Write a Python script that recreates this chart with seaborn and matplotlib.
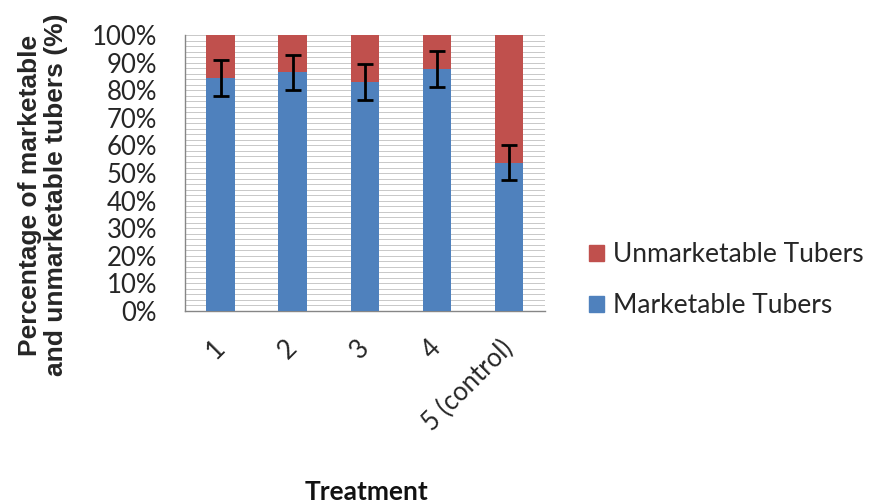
import numpy as np
import matplotlib
matplotlib.use("Agg")
import matplotlib.pyplot as plt
from matplotlib.patches import Rectangle
import pandas as pd
import seaborn as sns

treatments = ["1", "2", "3", "4", "5 (control)"]
marketable = [84.5, 86.5, 83.0, 87.6, 53.8]
unmarketable = [15.5, 13.5, 17.0, 12.4, 46.2]
errors = [6.4, 6.5, 6.4, 6.5, 6.5]

blue = "#4F81BD"
red = "#C0504D"

df = pd.DataFrame({"treatment": treatments, "marketable": marketable,
                   "unmarketable": unmarketable})
df["total"] = df["marketable"] + df["unmarketable"]

sns.set_style("white")
plt.rcParams["font.family"] = ["Lato", "DejaVu Sans"]

fig = plt.figure(figsize=(8.72, 5.03), dpi=100)
ax = fig.add_axes([0.212, 0.382, 0.413, 0.548])

sns.barplot(data=df, x="treatment", y="total", color=red, width=0.4,
            saturation=1, linewidth=0, ax=ax, zorder=3)
sns.barplot(data=df, x="treatment", y="marketable", color=blue, width=0.4,
            saturation=1, linewidth=0, ax=ax, zorder=4)
ax.errorbar(np.arange(len(treatments)), df["marketable"], yerr=errors,
            fmt="none", ecolor="black", elinewidth=2, capsize=6, capthick=2,
            zorder=5)

ax.set_xlim(-0.5, len(treatments) - 0.5)
ax.set_ylim(0, 100)
ax.set_yticks(np.arange(0, 101, 10))
ax.set_yticks(np.arange(0, 101, 2), minor=True)
ax.set_yticklabels([f"{v}%" for v in range(0, 101, 10)])
ax.grid(True, axis="y", which="both", color="#c8c8c8", linewidth=0.7, zorder=0)
ax.set_axisbelow(True)

ax.set_xticks(np.arange(-0.5, len(treatments), 1), minor=True)
ax.tick_params(axis="x", which="minor", length=6.5, color="#868686", width=1,
               direction="out")
ax.tick_params(axis="x", which="major", length=0, pad=24)
ax.tick_params(axis="y", which="major", length=7, color="#868686", width=1,
               direction="out", labelsize=18.5, labelcolor="#262626", pad=13)
ax.tick_params(axis="y", which="minor", length=0)
for lab in ax.get_xticklabels():
    lab.set_rotation(45)
    lab.set_ha("right")
    lab.set_va("center")
    lab.set_rotation_mode("anchor")
    lab.set_fontsize(18.5)
    lab.set_color("#262626")

for s in ["top", "right"]:
    ax.spines[s].set_visible(False)
for s in ["left", "bottom"]:
    ax.spines[s].set_color("#868686")
    ax.spines[s].set_linewidth(1)

ax.set_xlabel("")
ax.set_ylabel("")
fig.text(0.42, 0.022, "Treatment", ha="center", va="center", fontsize=19,
         fontweight="bold", color="#111111")
fig.text(0.049, 0.612, "Percentage of marketable\nand unmarketable tubers (%)",
         ha="center", va="center", rotation=90, fontsize=19, fontweight="bold",
         family=["Liberation Sans", "DejaVu Sans"], linespacing=1.1)

handles = [Rectangle((0, 0), 1, 1, color=red), Rectangle((0, 0), 1, 1, color=blue)]
fig.legend(handles, ["Unmarketable Tubers", "Marketable Tubers"],
           loc="center left", bbox_to_anchor=(0.648, 0.443), frameon=False,
           fontsize=19, handlelength=0.57, handleheight=0.57, handletextpad=0.33,
           labelspacing=0.98, labelcolor="#262626")

fig.savefig("out.png", dpi=100)
